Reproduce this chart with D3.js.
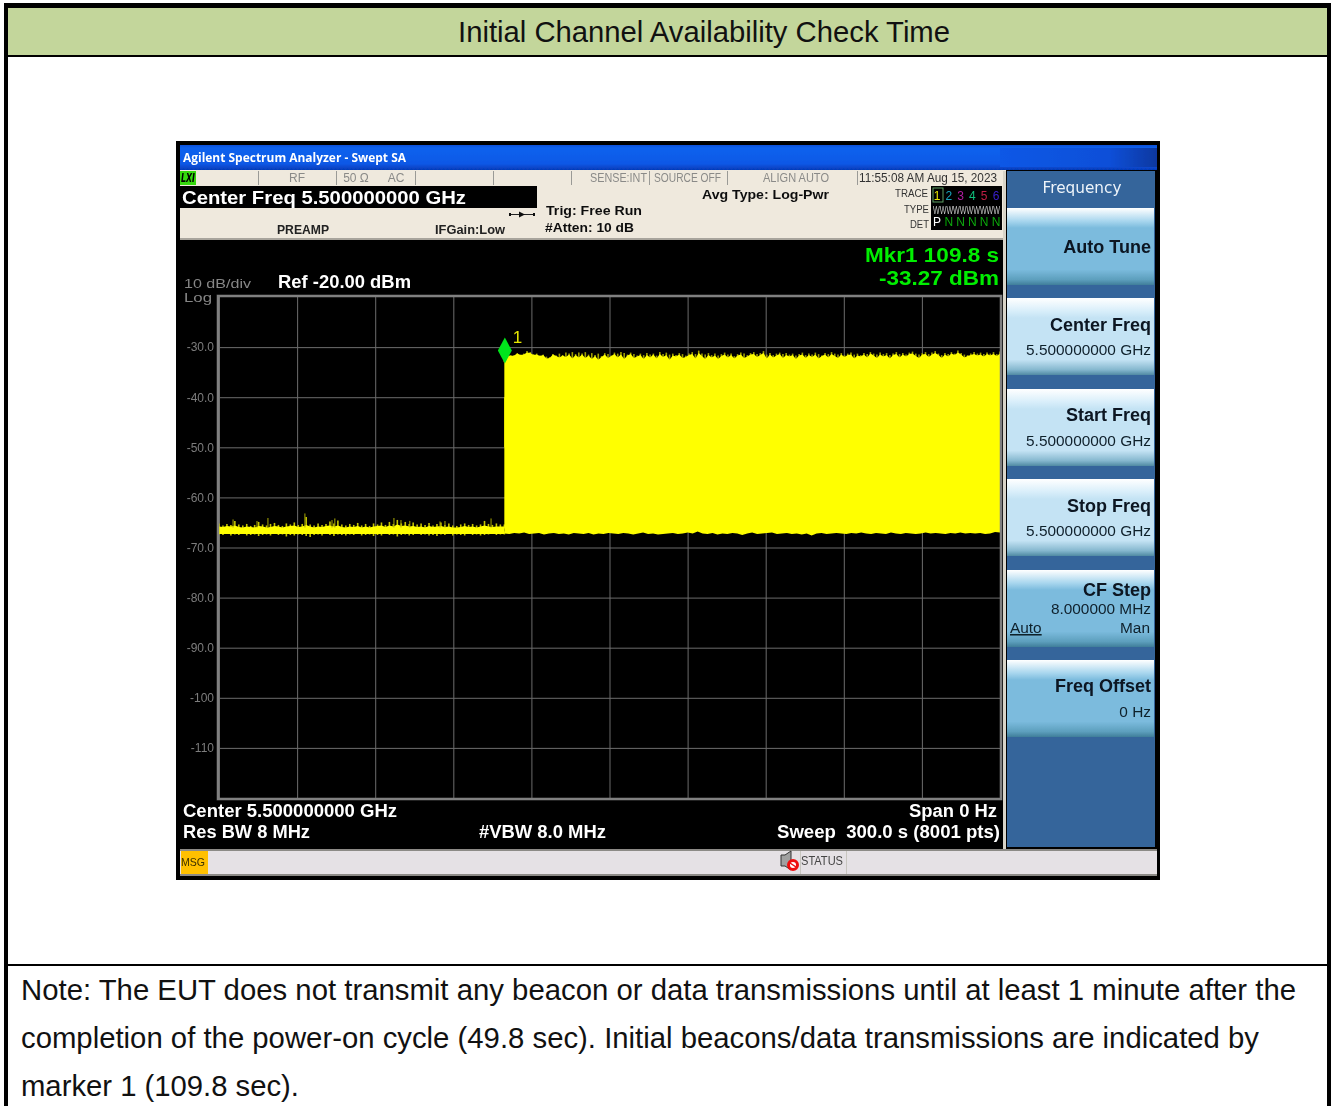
<!DOCTYPE html>
<html>
<head>
<meta charset="utf-8">
<title>Initial Channel Availability Check Time</title>
<script src="https://cdn.jsdelivr.net/npm/d3@7"></script>
<style>
    html, body { margin: 0; padding: 0; background: #fff; overflow: hidden; }
    svg { display: block; }
    text { font-family: "Liberation Sans", Arial, sans-serif; }
</style>
</head>
<body>
<svg id="page" width="1335" height="1106"></svg>
<script>
// values
const levelTicks = [-30, -40, -50, -60, -70, -80, -90, -100, -110];
const timeTicks = [0, 30, 60, 90, 120, 150, 180, 210, 240, 270, 300];
const markerTime = 109.8;
const markerLevel = -33.27;
const burstStart = 109.6;
const sweepEnd = 300;

// noise floor before the burst, evenly spaced readings
const prePeak = [-65.2, -65.6, -65.3, -65.5, -64.7, -65.4, -65.6, -65.3, -65.7, -65.5, -64.9, -65.4,
    -65.6, -65.3, -65.1, -65.5, -65.7, -65.2, -65.4, -65.0, -65.5, -65.3, -63.9, -65.4,
    -65.6, -65.2, -65.5, -65.3, -64.8, -65.2, -64.6, -65.4, -65.6, -65.3, -65.5, -65.1,
    -65.6, -65.3, -65.7, -65.2, -65.4, -65.0, -65.5, -64.9, -65.3, -64.5, -65.2, -64.9,
    -65.3, -65.0, -65.4, -65.2, -65.5, -65.1, -65.6, -65.3, -65.0, -65.5, -65.2, -65.6,
    -65.7, -65.4, -65.2, -65.5, -65.3, -65.6, -65.4, -64.7, -65.3, -65.5, -65.2, -65.4, -65.4];
const preSolid = [-65.8, -65.9, -65.7, -65.8, -65.6, -65.9, -66.0, -65.8, -65.9, -66.0, -65.7, -65.8,
    -66.0, -65.9, -65.7, -65.8, -66.0, -65.8, -65.7, -65.6, -65.9, -65.8, -65.5, -65.8,
    -66.0, -65.8, -65.9, -65.7, -65.6, -65.8, -65.6, -65.9, -66.0, -65.8, -65.9, -65.7,
    -66.0, -65.8, -66.0, -65.8, -65.7, -65.6, -65.9, -65.6, -65.8, -65.4, -65.7, -65.6,
    -65.8, -65.7, -65.9, -65.8, -66.0, -65.7, -65.9, -65.8, -65.7, -65.9, -65.8, -66.0,
    -66.0, -65.9, -65.7, -65.9, -65.8, -66.0, -65.8, -65.6, -65.8, -65.9, -65.8, -65.8, -65.8];
const preFloor = [-67.4, -67.5, -67.3, -67.6, -67.4, -67.5, -67.3, -67.6, -67.5, -67.4, -67.7, -67.5,
    -67.4, -67.6, -67.3, -67.5, -67.4, -67.8, -67.5, -67.6, -67.4, -67.5, -67.7, -67.9,
    -67.5, -67.4, -67.6, -67.3, -67.5, -67.7, -67.4, -67.5, -67.6, -67.4, -67.5, -67.3,
    -67.6, -67.5, -67.4, -67.7, -67.5, -67.6, -67.3, -67.5, -67.4, -67.8, -67.5, -67.4,
    -67.6, -67.5, -67.3, -67.5, -67.4, -67.6, -67.5, -67.7, -67.4, -67.5, -67.3, -67.6,
    -67.4, -67.5, -67.6, -67.3, -67.5, -67.4, -67.6, -67.5, -67.4, -67.3, -67.5, -67.4, -67.4];

// top of the burst, evenly spaced from burstStart to the end of the sweep
const burstPeak = [-31.8, -31.4, -31.6, -31.7, -31.2, -31.5, -31.3, -30.8, -31.0, -31.4, -31.3, -31.7, -31.5,
    -31.9, -32.0, -31.4, -31.7, -31.3, -31.6, -31.1, -31.3, -31.0, -31.4, -31.1, -31.3, -31.0, -31.5, -31.2,
    -31.6, -31.3, -31.8, -31.2, -31.4, -31.7, -31.1, -31.3, -31.0, -31.2, -31.5, -31.1, -31.4, -31.7, -31.3,
    -31.6, -31.2, -31.5, -31.3, -31.7, -31.0, -31.4, -31.1, -31.5, -31.3, -31.6, -31.2, -31.4, -31.7, -31.3,
    -31.0, -31.4, -30.7, -31.3, -31.5, -31.2, -31.6, -31.3, -31.7, -31.4, -31.1, -31.5, -31.3, -31.8, -31.4,
    -31.1, -31.3, -31.6, -31.2, -31.0, -31.4, -31.2, -30.8, -31.5, -31.2, -31.6, -31.3, -31.1, -31.4, -31.2,
    -31.5, -31.3, -31.7, -31.4, -31.1, -31.6, -31.3, -31.5, -31.1, -31.4, -31.7, -31.2, -31.4, -31.0, -31.3,
    -31.5, -31.2, -31.6, -31.3, -31.1, -31.5, -31.3, -31.6, -31.2, -31.4, -31.0, -31.3, -31.5, -31.1, -31.4,
    -31.2, -31.6, -31.3, -31.0, -31.4, -31.2, -31.5, -31.1, -30.9, -31.3, -31.5, -31.2, -31.0, -31.4, -31.1,
    -30.8, -31.3, -31.6, -31.2, -31.4, -31.0, -31.3, -30.7, -31.2, -31.5, -31.6, -31.3, -31.0, -31.3, -31.1,
    -31.4, -31.1, -31.3, -31.0, -31.4, -30.9];
const burstSolid = [-32.0, -31.6, -31.8, -31.7, -31.3, -31.6, -31.5, -31.1, -31.2, -31.6, -31.5, -31.8, -31.6,
    -32.3, -32.2, -31.5, -31.8, -32.1, -31.7, -32.0, -31.5, -32.3, -31.6, -32.1, -31.5, -32.2, -31.7, -32.4,
    -31.8, -32.5, -32.0, -31.5, -32.2, -31.8, -31.4, -32.1, -31.5, -32.4, -31.7, -31.4, -32.2, -31.9, -31.6,
    -32.4, -31.6, -32.1, -31.5, -32.3, -31.4, -32.0, -31.6, -32.5, -31.7, -31.9, -31.5, -32.2, -32.0, -31.6,
    -31.4, -32.3, -31.2, -31.8, -32.4, -31.6, -32.1, -31.7, -32.4, -31.8, -31.5, -32.1, -31.6, -32.3, -31.7,
    -31.5, -32.2, -31.9, -31.5, -31.4, -32.0, -31.6, -31.2, -32.3, -31.5, -32.1, -31.7, -31.4, -32.2, -31.6,
    -31.9, -31.6, -32.4, -31.7, -31.5, -32.2, -31.6, -32.0, -31.5, -32.3, -31.8, -31.5, -32.1, -31.4, -31.8,
    -32.2, -31.5, -32.0, -31.6, -31.5, -32.3, -31.7, -31.9, -31.5, -32.1, -31.3, -31.7, -32.2, -31.5, -31.9,
    -31.6, -32.3, -31.6, -31.4, -32.1, -31.5, -31.9, -31.4, -31.3, -31.8, -32.2, -31.5, -31.4, -32.0, -31.5,
    -31.2, -31.6, -32.2, -31.5, -31.9, -31.3, -31.6, -31.1, -31.5, -32.1, -31.8, -31.6, -31.4, -31.7, -31.5,
    -31.9, -31.4, -31.7, -31.4, -31.8, -31.3];

// bottom of the burst, evenly spaced from burstStart to the end of the sweep
const burstFloor = [-67.2, -67.3, -67.1, -67.2, -67.0, -67.3, -67.2, -67.1, -67.4, -67.2, -67.1, -67.3, -67.2, -67.4, -67.1,
    -67.2, -67.3, -67.1, -67.4, -67.2, -67.3, -67.1, -67.2, -67.3, -67.1, -67.2, -67.4, -67.2, -67.0, -67.3,
    -67.2, -67.4, -67.3, -67.2, -67.1, -67.3, -67.2, -67.0, -67.2, -66.8, -67.2, -67.3, -67.1, -67.4, -67.2,
    -67.3, -67.1, -67.2, -67.5, -67.2, -67.0, -67.3, -67.2, -67.1, -67.0, -67.3, -67.2, -67.1, -67.3, -67.2,
    -67.4, -67.2, -67.6, -67.2, -67.1, -67.3, -67.2, -67.1, -67.2, -67.3, -67.1, -67.2, -67.0, -67.2, -67.3,
    -67.1, -67.2, -67.3, -67.0, -67.2, -67.3, -67.1, -67.2, -67.3, -67.2, -67.0, -67.2, -67.1, -67.2, -67.3,
    -67.1, -67.2, -67.0, -67.2, -67.1, -67.2, -67.1, -67.3, -67.2, -66.9, -67.0];

// isolated peaks below the burst: time (s) and level (dBm)
const spikeTimes = [5.4, 14.6, 18.8, 33, 43.4, 44.5, 67.2, 69.9, 73.3, 84.9, 86.8, 104.5];
const spikeLevels = [-64.4, -64.7, -64.1, -63.2, -64.5, -64.2, -64.1, -64.5, -64.7, -64.8, -64.7, -64.2];

const softkeys = ["Auto Tune", "Center Freq", "Start Freq", "Stop Freq", "CF Step", "Freq Offset"];
const softkeyValues = ["", "5.500000000 GHz", "5.500000000 GHz", "5.500000000 GHz", "8.000000 MHz", "0 Hz"];
const traceNumbers = ["1", "2", "3", "4", "5", "6"];
const traceDetectors = ["P", "N", "N", "N", "N", "N"];
const noteLines = [
    "Note: The EUT does not transmit any beacon or data transmissions until at least 1 minute after the",
    "completion of the power-on cycle (49.8 sec). Initial beacons/data transmissions are indicated by",
    "marker 1 (109.8 sec)."
];
const noteWidths = [1275, 1238, 278];

const svg = d3.select("#page");
const defs = svg.append("defs");

function gradient(id, stops, horizontal) {
    const g = defs.append("linearGradient").attr("id", id)
        .attr("x1", 0).attr("y1", 0).attr("x2", horizontal ? 1 : 0).attr("y2", horizontal ? 0 : 1);
    stops.forEach(s => g.append("stop").attr("offset", s[0]).attr("stop-color", s[1]));
}
gradient("titlebar", [[0, "#0a4fd8"], [0.12, "#0a62ee"], [0.75, "#0a58e6"], [1, "#063cb8"]]);
gradient("titleEnd", [[0, "#0a58e6"], [0.7, "#0a4fd8"], [1, "#1038a0"]], true);
gradient("keyDark", [[0, "#ffffff"], [0.17, "#a8d6ee"], [0.26, "#7bbbdd"], [0.8, "#7bbbdd"], [0.93, "#5d9fbd"], [1, "#3f7e9a"]]);
gradient("keyLight", [[0, "#ffffff"], [0.17, "#d8eefa"], [0.26, "#c4e3f4"], [0.8, "#c4e3f4"], [0.93, "#86b8cf"], [1, "#4f8aa3"]]);
defs.append("filter").attr("id", "soft").attr("x", 0).attr("y", 0).attr("width", 1).attr("height", 1)
    .append("feGaussianBlur").attr("stdDeviation", 0.4);

function rect(parent, x, y, w, h, fill) {
    return parent.append("rect").attr("x", x).attr("y", y).attr("width", w).attr("height", h).attr("fill", fill);
}

function label(parent, x, y, str, o) {
    o = o || {};
    const t = parent.append("text")
        .attr("x", x).attr("y", y)
        .attr("text-anchor", o.anchor || "start")
        .attr("font-size", o.size || 12)
        .attr("font-weight", o.bold ? "bold" : "normal")
        .attr("fill", o.fill || "#000")
        .style("white-space", "pre")
        .text(str);
    if (o.width) t.attr("textLength", o.width).attr("lengthAdjust", "spacingAndGlyphs");
    if (o.family) t.style("font-family", o.family);
    if (o.underline) t.attr("text-decoration", "underline");
    return t;
}

// ---- table around the screenshot
rect(svg, 4, 3, 1327, 1103, "#000");
rect(svg, 8, 8, 1319, 1098, "#fff");
rect(svg, 8, 8, 1319, 47, "#c3d69b");
rect(svg, 8, 55, 1319, 2, "#000");
rect(svg, 8, 964, 1319, 2, "#000");
label(svg, 704, 42, "Initial Channel Availability Check Time", { anchor: "middle", size: 29, width: 492, fill: "#111" });
noteLines.forEach((d, i) => label(svg, 21, 1000 + i * 48, d, { size: 29, width: noteWidths[i], fill: "#111" }));

// ---- analyzer screen
const screen = svg.append("g").attr("filter", "url(#soft)");
rect(screen, 176, 141, 984, 739, "#000");
rect(screen, 180, 145, 977, 25, "url(#titlebar)");
rect(screen, 1000, 148, 157, 19, "url(#titleEnd)");
label(screen, 183, 162, "Agilent Spectrum Analyzer - Swept SA", { size: 12, bold: true, fill: "#fff", width: 223, family: "'Open Sans'" });

// status row
rect(screen, 180, 170, 826, 15, "#efe9dd");
rect(screen, 180, 171, 16, 14, "#35d80f");
label(screen, 181, 182, "LXI", { size: 12, bold: true, width: 14, family: "'DejaVu Sans'" }).style("font-style", "italic");
[258, 336, 415, 493, 571, 649, 727, 857].forEach(x => rect(screen, x, 171, 1, 14, "#9a9a96"));
label(screen, 297, 182, "RF", { size: 12, fill: "#8a8a88", anchor: "middle" });
label(screen, 356, 182, "50 Ω", { size: 12, fill: "#8a8a88", anchor: "middle" });
label(screen, 396, 182, "AC", { size: 12, fill: "#8a8a88", anchor: "middle" });
label(screen, 590, 182, "SENSE:INT", { size: 12, fill: "#8a8a88", width: 57 });
label(screen, 654, 182, "SOURCE OFF", { size: 12, fill: "#8a8a88", width: 67 });
label(screen, 763, 182, "ALIGN AUTO", { size: 12, fill: "#8a8a88", width: 66 });
label(screen, 859, 182, "11:55:08 AM Aug 15, 2023", { size: 12, fill: "#333", width: 138 });

// settings band
rect(screen, 180, 185, 826, 54, "#efe9dd");
rect(screen, 180, 238, 826, 2, "#a8a49c");
rect(screen, 180, 186, 357, 22, "#000");
label(screen, 182, 204, "Center Freq 5.500000000 GHz", { size: 19, bold: true, fill: "#fff", width: 284 });
label(screen, 277, 234, "PREAMP", { size: 12, bold: true, fill: "#222", width: 52 });
label(screen, 435, 234, "IFGain:Low", { size: 12, bold: true, fill: "#222", width: 70 });
label(screen, 546, 215, "Trig: Free Run", { size: 13, bold: true, fill: "#111", width: 96 });
label(screen, 545, 232, "#Atten: 10 dB", { size: 13, bold: true, fill: "#111", width: 89 });
label(screen, 702, 199, "Avg Type: Log-Pwr", { size: 13, bold: true, fill: "#111", width: 127 });
screen.append("path").attr("d", "M510 214.5H534").attr("stroke", "#222").attr("fill", "none");
screen.append("path").attr("d", "M519 211.5L525 214.5L519 217.5Z").attr("fill", "#111");
rect(screen, 509, 213, 2, 3, "#111");
rect(screen, 533, 213, 2, 3, "#111");

label(screen, 928, 197, "TRACE", { size: 11, anchor: "end", fill: "#333", width: 33 });
label(screen, 929, 213, "TYPE", { size: 11, anchor: "end", fill: "#333", width: 25 });
label(screen, 929, 228, "DET", { size: 11, anchor: "end", fill: "#333", width: 19 });
rect(screen, 931, 186, 71, 44, "#000");
rect(screen, 933, 188, 10, 14, "none").attr("stroke", "#5fa060");
const traceColors = d3.scaleOrdinal().domain(traceNumbers)
    .range(["#e6e600", "#16a6bf", "#b01fa0", "#10c07a", "#c01f45", "#3a1fd0"]);
const traceX = d3.scalePoint().domain(d3.range(6)).range([937, 996]);
screen.selectAll(".traceNum").data(traceNumbers).join("text").attr("class", "traceNum")
    .attr("x", (d, i) => traceX(i)).attr("y", 200).attr("text-anchor", "middle").attr("font-size", 12)
    .attr("fill", d => traceColors(d)).text(d => d);
label(screen, 933, 214, "WWWWWWWWWW", { size: 11, fill: "#c8c8c8", width: 67 });
screen.selectAll(".traceDet").data(traceDetectors).join("text").attr("class", "traceDet")
    .attr("x", (d, i) => traceX(i)).attr("y", 226).attr("text-anchor", "middle").attr("font-size", 12)
    .attr("fill", d => d === "P" ? "#fff" : "#0aa80a").text(d => d);

// ---- plot
const margin = { top: 297, right: 335, bottom: 308, left: 219 };
const width = 1335 - margin.left - margin.right;
const height = 1106 - margin.top - margin.bottom;
const chart = screen.append("g").attr("transform", `translate(${margin.left}, ${margin.top})`);

const xscale = d3.scaleLinear().domain([0, sweepEnd]).range([0, width]);
const yscale = d3.scaleLinear().domain([-120, -20]).range([height, 0]);

const yaxis = d3.axisLeft(yscale)
    .tickValues(levelTicks)
    .tickSize(-width)
    .tickPadding(5)
    .tickFormat(d => d > -100 ? d.toFixed(1) : String(d));
const xaxis = d3.axisTop(xscale)
    .tickValues(timeTicks)
    .tickSize(-height)
    .tickFormat("");

const yaxis_group = chart.append("g").call(yaxis);
const xaxis_group = chart.append("g").call(xaxis);
[yaxis_group, xaxis_group].forEach(g => {
    g.select(".domain").remove();
    g.selectAll("line").attr("stroke", "#6c6c6c").attr("stroke-width", 1);
});
yaxis_group.selectAll("text").attr("fill", "#7d7d7d").attr("font-size", 12)
    .style("font-family", "'Liberation Sans'");

// top and bottom are either a reading per point or one level for the whole band
function band(top, bottom, start, end, fill) {
    const n = Array.isArray(top) ? top.length : bottom.length;
    const tscale = d3.scaleLinear().domain([0, n - 1]).range([start, end]);
    const rows = d3.range(n).map(i => ({
        t: tscale(i),
        top: Array.isArray(top) ? top[i] : top,
        bottom: Array.isArray(bottom) ? bottom[i] : bottom
    }));
    const area = d3.area()
        .x(d => xscale(d.t))
        .y0(d => yscale(d.bottom))
        .y1(d => yscale(d.top));
    chart.append("path").datum(rows).attr("d", area).attr("fill", fill);
}

// half lit comb of single readings, one tine per value
function tines(levels, to, start, end, stroke) {
    const tscale = d3.scaleLinear().domain([0, levels.length - 1]).range([start, end]);
    chart.append("g").selectAll("line").data(levels).join("line")
        .attr("x1", (d, i) => xscale(tscale(i)))
        .attr("x2", (d, i) => xscale(tscale(i)))
        .attr("y1", d => yscale(d))
        .attr("y2", yscale(to))
        .attr("stroke", stroke)
        .attr("stroke-width", 1.6);
}

tines(prePeak, -66.2, 0, burstStart, "#c4c400");
tines(preFloor, -66.8, 0, burstStart, "#c4c400");
band(preSolid, -67.3, 0, burstStart, "#ffff00");
tines(burstPeak, -33, burstStart, sweepEnd, "#a0a000");
band(burstSolid, -50, burstStart, sweepEnd, "#ffff00");
band(-40, burstFloor, burstStart, sweepEnd, "#ffff00");

chart.selectAll(".spike").data(spikeTimes).join("line").attr("class", "spike")
    .attr("x1", d => xscale(d)).attr("x2", d => xscale(d))
    .attr("y1", (d, i) => yscale(spikeLevels[i]))
    .attr("y2", yscale(-66))
    .attr("stroke", "#a8a800").attr("stroke-width", 1);

// frame over the trace ends
rect(chart, -1, -1, width + 2, height + 2, "none").attr("stroke", "#808080").attr("stroke-width", 2.5);

// marker 1, the lower tip sits on the marker level
const mx = xscale(markerTime);
const my = yscale(markerLevel);
chart.append("path")
    .attr("d", `M${mx} ${my}l-7 -13l7 -13l7 13Z`)
    .attr("fill", "#00e51a");
label(chart, mx + 8, my - 20, "1", { size: 17, fill: "#e6e600" });

// readouts
label(screen, 999, 262, "Mkr1 109.8 s", { size: 20.5, bold: true, fill: "#00ee00", anchor: "end", width: 134 });
label(screen, 999, 285, "-33.27 dBm", { size: 20.5, bold: true, fill: "#00ee00", anchor: "end", width: 120 });
label(screen, 184, 287.5, "10 dB/div", { size: 13, fill: "#868686", width: 67 });
label(screen, 184, 302, "Log", { size: 13, fill: "#868686", width: 28 });
label(screen, 278, 288, "Ref -20.00 dBm", { size: 18, bold: true, fill: "#fff", width: 133 });
label(screen, 183, 817, "Center 5.500000000 GHz", { size: 18, bold: true, fill: "#fff", width: 214 });
label(screen, 183, 838, "Res BW 8 MHz", { size: 18, bold: true, fill: "#fff", width: 127 });
label(screen, 479, 838, "#VBW 8.0 MHz", { size: 18, bold: true, fill: "#fff", width: 127 });
label(screen, 997, 817, "Span 0 Hz", { size: 18, bold: true, fill: "#fff", anchor: "end", width: 88 });
label(screen, 1000, 838, "Sweep  300.0 s (8001 pts)", { size: 18, bold: true, fill: "#fff", anchor: "end", width: 223 });

// ---- softkey panel
rect(screen, 1003, 171, 3, 678, "#d8d4c8");
rect(screen, 1007, 171, 148, 676, "#34659b");
label(screen, 1082, 193, "Frequency", { size: 15, fill: "#eef4fa", anchor: "middle", width: 79, family: "'DejaVu Sans'" });
const keyTops = [208, 298, 389, 479, 570, 660];
const keyTitleY = [45, 33, 32, 33, 26, 32];
softkeys.forEach((d, i) => {
    const light = i >= 1 && i <= 3;
    rect(screen, 1007, keyTops[i], 147, 77, `url(#${light ? "keyLight" : "keyDark"})`);
    label(screen, 1151, keyTops[i] + keyTitleY[i], d, { size: 18, bold: true, fill: "#0a1420", anchor: "end" });
    if (softkeyValues[i]) {
        label(screen, 1151, keyTops[i] + (i === 4 ? 44 : 57), softkeyValues[i], { size: 15.4, fill: "#10202c", anchor: "end" });
    }
});
label(screen, 1010, 633, "Auto", { size: 15.4, fill: "#10202c", underline: true });
label(screen, 1150, 633, "Man", { size: 15.4, fill: "#10202c", anchor: "end" });

// ---- message bar
rect(screen, 180, 849, 977, 27, "#8c8a86");
rect(screen, 180, 851, 977, 23, "#e5e1e5");
rect(screen, 181, 851, 27, 23, "#ffc000");
label(screen, 181, 866, "MSG", { size: 11.5, fill: "#3a3000", width: 24 });
rect(screen, 800, 851, 1, 23, "#c8c6c0");
rect(screen, 846, 851, 1, 23, "#c8c6c0");
label(screen, 801, 865, "STATUS", { size: 12, fill: "#444", width: 42 });
screen.append("path").attr("d", "M781 855h4l6 -4v19l-6 -4h-4Z").attr("fill", "#a0a0a0").attr("stroke", "#333");
screen.append("circle").attr("cx", 793).attr("cy", 865).attr("r", 4.5).attr("fill", "#fff").attr("stroke", "#ee1010").attr("stroke-width", 3);
screen.append("path").attr("d", "M790 863L796 867").attr("stroke", "#ee1010").attr("stroke-width", 1.5);
</script>
</body>
</html>
